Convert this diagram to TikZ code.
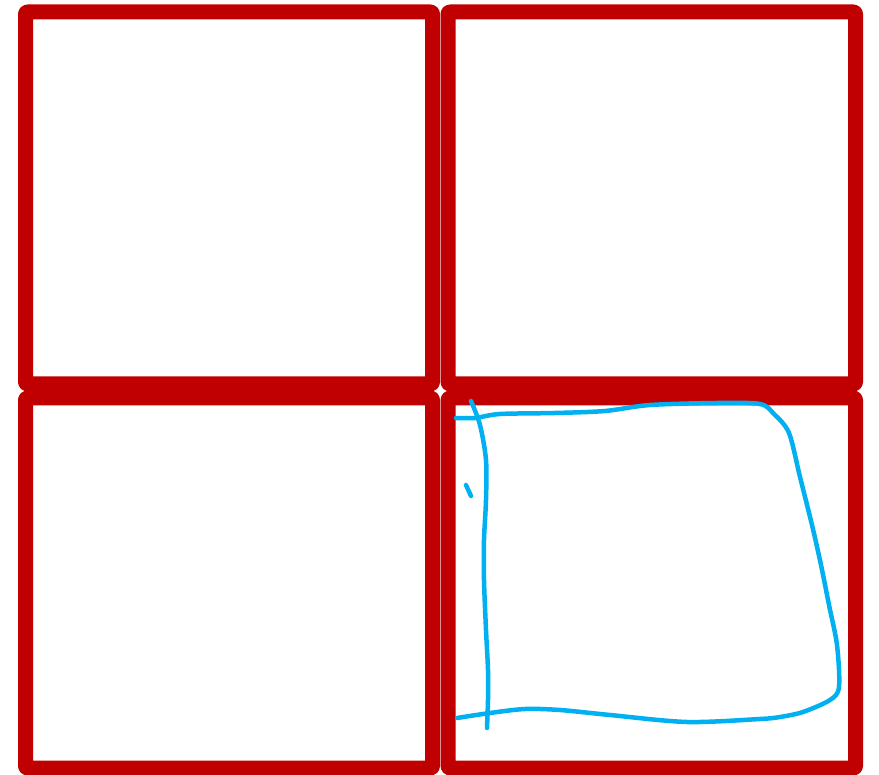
\documentclass[tikz,border=0pt]{standalone}
\usetikzlibrary{calc}
\definecolor{PaneRed}{RGB}{192,0,0}
\definecolor{InkBlue}{RGB}{0,176,240}
\tikzset{
  win/pane/.style={
    draw=PaneRed,
    line width=15pt,
    line join=round,
    rounded corners=2pt
  },
  win/ink/.style={
    draw=InkBlue,
    line width=4.5pt,
    line cap=round,
    line join=round
  }
}
\begin{document}
\begin{tikzpicture}[x=1pt,y=-1pt]
  \useasboundingbox (0,0) rectangle (879,775);
  % four panes
  \foreach \xa/\xb/\ya/\yb in {
    25.5/432.5/12/384, 448/855.5/12/384,
    25.5/432.5/398/768, 448/855.5/398/768}
  {\draw[win/pane] (\xa,\ya) rectangle (\xb,\yb);}
  % hand-drawn outline in the lower right pane
  \draw[win/ink] plot[smooth,tension=0.5] coordinates {
    (456,418) (475,418) (500,414) (555,413) (605,411) (650,405)
    (717,403) (760,404) (774,414) (789,433) (800,477) (812,525)
    (821,565) (829,605) (837,645) (839,687) (830,700)
    (803,712) (780,717) (760,719) (687,722) (610,715) (560,710)
    (525,709) (490,713) (457,718)};
  \draw[win/ink] plot[smooth,tension=0.5] coordinates {
    (471,401) (480,425) (486,460) (486,500) (484,540) (484,580)
    (486,630) (488,670) (488,700) (487,728)};
  \draw[win/ink] (466,485) -- (471,496);
\end{tikzpicture}
\end{document}
